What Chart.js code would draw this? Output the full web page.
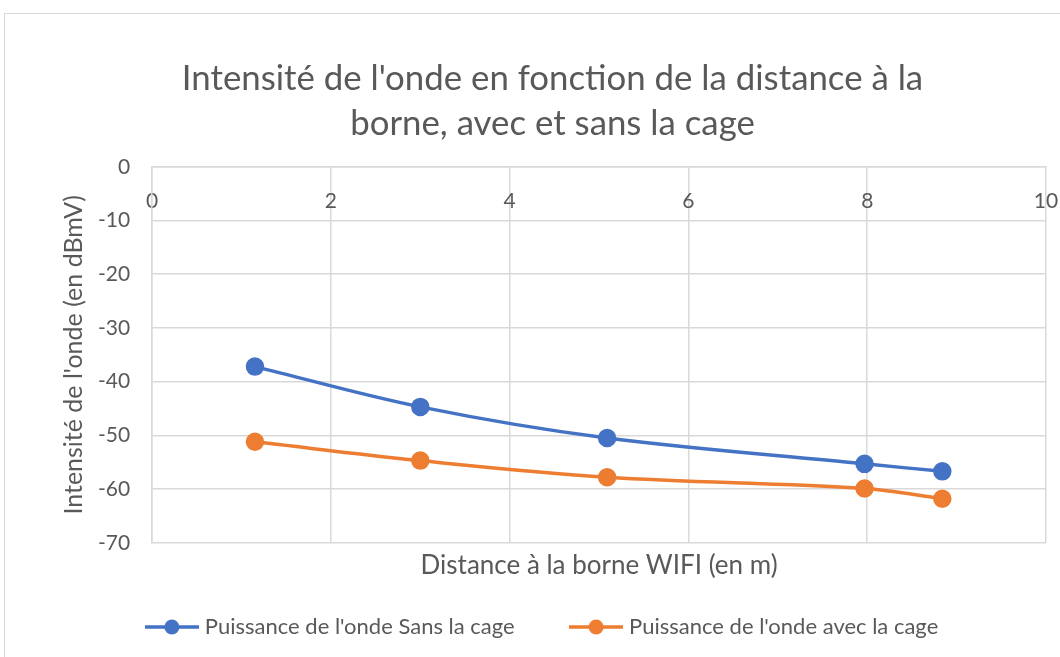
<!DOCTYPE html>
<html>
<head>
<meta charset="utf-8">
<script src="https://cdn.jsdelivr.net/npm/chart.js@4.4.0/dist/chart.umd.min.js"></script>
<style>
  html, body { margin: 0; padding: 0; background: #fff; overflow: hidden; }
  #frame { position: absolute; left: 4px; top: 13px; width: 1200px; height: 800px; border: 1px solid #d9d9d9; }
  #wrap { position: absolute; left: 0; top: 0; width: 1060px; height: 657px; }
</style>
</head>
<body>
<div id="frame"></div>
<div id="wrap"><canvas id="chart"></canvas></div>
<script>
// distances (m) et intensites (dBmV)
const distSans = [1.15, 3.0, 5.09, 7.97, 8.84];
const puissanceSans = [-37.2, -44.7, -50.5, -55.3, -56.7];
const distAvec = [1.15, 3.0, 5.09, 7.97, 8.84];
const puissanceAvec = [-51.2, -54.7, -57.8, -59.9, -61.8];

const labelSans = "Puissance de l'onde Sans la cage";
const labelAvec = "Puissance de l'onde avec la cage";
const blue = '#4472C4';
const orange = '#ED7D31';
const grey = '#595959';
const gridCol = '#d9d9d9';
const fontFam = 'Lato, "Open Sans", sans-serif';

function toXY(xs, ys) {
  return xs.map((x, i) => ({ x: x, y: ys[i] }));
}

// petite icone ligne + rond pour la legende (style Excel)
// plus large que la boite de 10px pour rapprocher le texte
function legendIcon(color) {
  const c = document.createElement('canvas');
  c.width = 54; c.height = 18;
  const g = c.getContext('2d');
  g.strokeStyle = color;
  g.lineWidth = 3.5;
  g.beginPath();
  g.moveTo(0, 9); g.lineTo(54, 9);
  g.stroke();
  g.fillStyle = color;
  g.beginPath();
  g.arc(27, 9, 7.5, 0, Math.PI * 2);
  g.fill();
  return c;
}

// espaces en fin de libelle pour ecarter les deux entrees
const trailing = ['       ', '   '];

const ctx = document.getElementById('chart');
new Chart(ctx, {
  type: 'line',
  data: {
    datasets: [
      {
        label: labelSans,
        data: toXY(distSans, puissanceSans),
        borderColor: blue,
        backgroundColor: blue,
        borderWidth: 3.5,
        pointRadius: 7.5,
        pointHoverRadius: 7.5,
        tension: 0.35
      },
      {
        label: labelAvec,
        data: toXY(distAvec, puissanceAvec),
        borderColor: orange,
        backgroundColor: orange,
        borderWidth: 3.5,
        pointRadius: 7.5,
        pointHoverRadius: 7.5,
        tension: 0.35
      }
    ]
  },
  options: {
    responsive: true,
    maintainAspectRatio: false,
    animation: false,
    layout: { padding: { top: 14, right: 14, bottom: 9, left: 59 } },
    plugins: {
      tooltip: { enabled: false },
      title: {
        display: true,
        text: ["Intensité de l'onde en fonction de la distance à la", "borne, avec et sans la cage"],
        color: grey,
        font: { family: fontFam, size: 34.8, weight: 'normal', lineHeight: 1.29 },
        padding: { top: 42, bottom: 21 }
      },
      legend: {
        position: 'bottom',
        labels: {
          color: grey,
          font: { family: fontFam, size: 22 },
          usePointStyle: true,
          pointStyleWidth: 44,
          boxHeight: 18,
          padding: 20,
          generateLabels: function (chart) {
            return chart.data.datasets.map((ds, i) => ({
              text: ds.label + trailing[i],
              fontColor: grey,
              pointStyle: legendIcon(ds.borderColor),
              datasetIndex: i,
              hidden: false,
              lineWidth: 0
            }));
          }
        }
      }
    },
    scales: {
      x: {
        type: 'linear',
        min: 0,
        max: 10,
        position: { y: 0 },
        ticks: { stepSize: 2, color: grey, font: { family: fontFam, size: 21 }, padding: 0 },
        grid: { color: gridCol, lineWidth: 1.5, drawTicks: true, tickLength: 22, tickColor: 'rgba(0,0,0,0)' },
        border: { color: gridCol, width: 1.5 }
      },
      xTitre: {
        type: 'linear',
        min: 0,
        max: 10,
        position: 'bottom',
        ticks: { display: false },
        grid: { display: false, drawTicks: false },
        border: { display: false },
        title: {
          display: true,
          text: 'Distance à la borne WIFI (en m)',
          color: grey,
          font: { family: fontFam, size: 26 },
          padding: { top: 7, bottom: 15 }
        }
      },
      y: {
        min: -70,
        max: 0,
        ticks: { stepSize: 10, color: grey, font: { family: fontFam, size: 21 }, padding: 22 },
        grid: { color: gridCol, lineWidth: 1.5, drawTicks: false },
        border: { color: gridCol, width: 1.5 },
        title: {
          display: true,
          text: "Intensité de l'onde (en dBmV)",
          color: grey,
          font: { family: fontFam, size: 25 },
          padding: { top: 0, bottom: -13 }
        }
      }
    }
  }
});
</script>
</body>
</html>
